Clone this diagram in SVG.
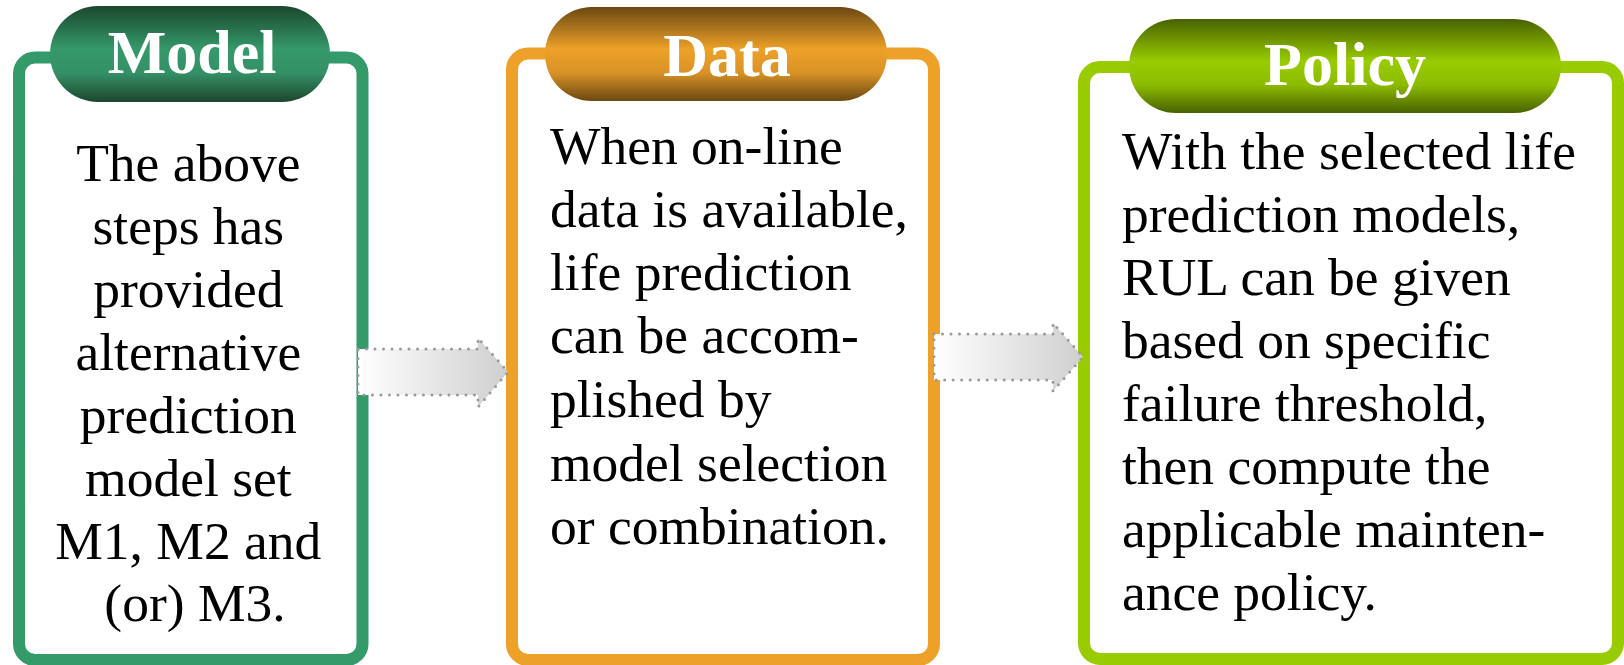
<svg xmlns="http://www.w3.org/2000/svg" width="1624" height="665" viewBox="0 0 1624 665">
<style>
.box{fill:#fff;stroke-width:12}
.hdr{font-family:"Liberation Serif","Times New Roman",serif;font-weight:bold;font-size:62px;fill:#fff;text-anchor:middle}
.body{font-family:"Liberation Serif","Times New Roman",serif;font-size:53.5px;fill:#000}
.arrow{stroke:#9a9a9a;stroke-width:3;stroke-dasharray:0 8.5;stroke-linecap:round;stroke-linejoin:round}
</style>
<defs>
<linearGradient id="gGreen" x1="0" y1="0" x2="0" y2="1">
<stop offset="0" stop-color="#1b472d"/><stop offset="0.45" stop-color="#35996a"/><stop offset="0.7" stop-color="#349066"/><stop offset="1" stop-color="#1b472d"/>
</linearGradient>
<linearGradient id="gOrange" x1="0" y1="0" x2="0" y2="1">
<stop offset="0" stop-color="#6b4812"/><stop offset="0.45" stop-color="#eda128"/><stop offset="0.7" stop-color="#d99226"/><stop offset="1" stop-color="#6b4812"/>
</linearGradient>
<linearGradient id="gLime" x1="0" y1="0" x2="0" y2="1">
<stop offset="0" stop-color="#486200"/><stop offset="0.45" stop-color="#99cc00"/><stop offset="0.7" stop-color="#8cbb00"/><stop offset="1" stop-color="#486200"/>
</linearGradient>
<linearGradient id="gArrow" x1="0" y1="0" x2="1" y2="0">
<stop offset="0" stop-color="#ffffff"/><stop offset="1" stop-color="#cfcfcf"/>
</linearGradient>
</defs>

<g id="model">
<rect class="box" x="19" y="57.5" width="343.5" height="602.5" rx="16" stroke="#349a6a"/>
<rect x="50" y="6" width="280" height="96" rx="48" fill="url(#gGreen)"/>
<text class="hdr" x="192" y="73">Model</text>
<text class="body" text-anchor="middle">
<tspan x="195" y="181">The above</tspan>
<tspan x="195" y="244">steps has</tspan>
<tspan x="195" y="307">provided</tspan>
<tspan x="195" y="370">alternative</tspan>
<tspan x="195" y="433">prediction</tspan>
<tspan x="195" y="496">model set</tspan>
<tspan x="195" y="559">M1, M2 and</tspan>
<tspan x="195" y="621">(or) M3.</tspan>
</text>
</g>

<g id="data">
<rect class="box" x="512" y="53.5" width="422" height="606.5" rx="16" stroke="#eda128"/>
<rect x="545" y="7" width="342" height="94" rx="47" fill="url(#gOrange)"/>
<text class="hdr" x="727" y="76">Data</text>
<text class="body">
<tspan x="550" y="164">When on-line</tspan>
<tspan x="550" y="227">data is available,</tspan>
<tspan x="550" y="290">life prediction</tspan>
<tspan x="550" y="353">can be accom-</tspan>
<tspan x="550" y="417">plished by</tspan>
<tspan x="550" y="481">model selection</tspan>
<tspan x="550" y="544">or combination.</tspan>
</text>
</g>

<g id="policy">
<rect class="box" x="1084" y="67" width="534" height="592" rx="16" stroke="#99cc00"/>
<rect x="1129" y="19" width="432" height="94" rx="47" fill="url(#gLime)"/>
<text class="hdr" x="1345" y="85">Policy</text>
<text class="body">
<tspan x="1122" y="169">With the selected life</tspan>
<tspan x="1122" y="232">prediction models,</tspan>
<tspan x="1122" y="295">RUL can be given</tspan>
<tspan x="1122" y="358">based on specific</tspan>
<tspan x="1122" y="421">failure threshold,</tspan>
<tspan x="1122" y="484">then compute the</tspan>
<tspan x="1122" y="547">applicable mainten-</tspan>
<tspan x="1122" y="610">ance policy.</tspan>
</text>
</g>

<g id="connectors">
<polygon class="arrow" fill="url(#gArrow)" points="358,349 478,349 478,338 508,372 478,407 478,395 358,395"/>
<polygon class="arrow" fill="url(#gArrow)" points="934,334 1053,334 1053,323 1083,357 1053,391 1053,380 934,380"/>
</g>
</svg>
